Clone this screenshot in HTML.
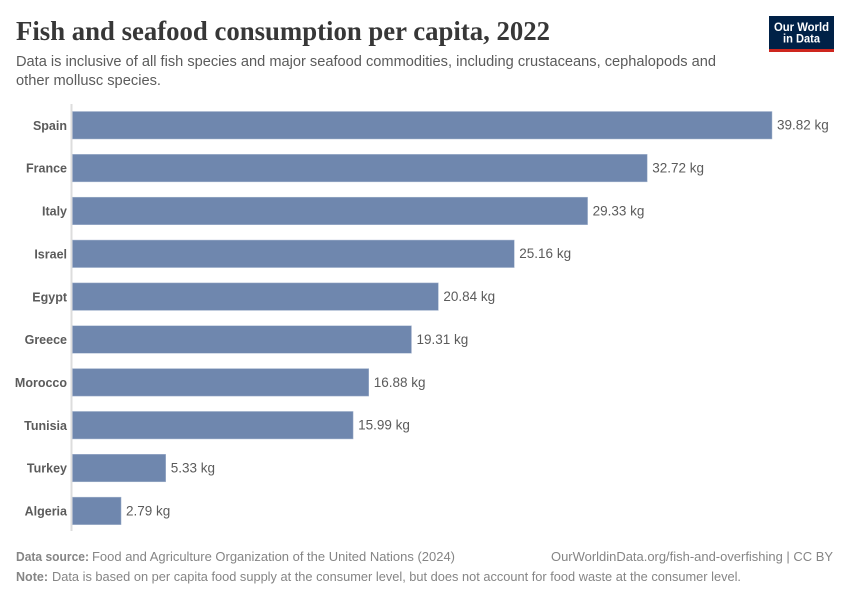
<!DOCTYPE html>
<html lang="en">
<head>
<meta charset="utf-8">
<title>Fish and seafood consumption per capita, 2022</title>
<style>
html,body{margin:0;padding:0;background:#fff;}
svg{display:block;font-family:"Liberation Sans",sans-serif;}
</style>
</head>
<body>
<svg id="chart" width="850" height="600" viewBox="0 0 850 600" xmlns="http://www.w3.org/2000/svg">
  <rect x="0" y="0" width="850" height="600" fill="#ffffff"/>
  <text x="16" y="40" font-family="'Liberation Serif',serif" font-weight="700" font-size="27" fill="#373737" textLength="534" lengthAdjust="spacingAndGlyphs">Fish and seafood consumption per capita, 2022</text>
  <text x="16" y="66" font-size="14.5" fill="#5b5b5b" textLength="700" lengthAdjust="spacingAndGlyphs">Data is inclusive of all fish species and major seafood commodities, including crustaceans, cephalopods and</text>
  <text x="16" y="85" font-size="14.5" fill="#5b5b5b" textLength="145" lengthAdjust="spacingAndGlyphs">other mollusc species.</text>
  <g>
    <rect x="769" y="16" width="65" height="33" fill="#002147"/>
    <rect x="769" y="49" width="65" height="3" fill="#ce261e"/>
    <text x="801.5" y="31" text-anchor="middle" font-size="12" font-weight="700" fill="#ffffff" textLength="55" lengthAdjust="spacingAndGlyphs">Our World</text>
    <text x="801.5" y="42.5" text-anchor="middle" font-size="12" font-weight="700" fill="#ffffff" textLength="37" lengthAdjust="spacingAndGlyphs">in Data</text>
  </g>
  <line x1="71.5" y1="104" x2="71.5" y2="531" stroke="#dddddd" stroke-width="2"/>
  <g id="bars"></g>
  <text x="16" y="561" font-size="13" font-weight="700" fill="#858585" textLength="73" lengthAdjust="spacingAndGlyphs">Data source:</text>
  <text x="92" y="561" font-size="13" fill="#858585" textLength="363" lengthAdjust="spacingAndGlyphs">Food and Agriculture Organization of the United Nations (2024)</text>
  <text x="551" y="561" font-size="13" fill="#858585" textLength="282" lengthAdjust="spacingAndGlyphs">OurWorldinData.org/fish-and-overfishing | CC BY</text>
  <text x="16" y="581" font-size="13" font-weight="700" fill="#858585" textLength="32" lengthAdjust="spacingAndGlyphs">Note:</text>
  <text x="52" y="581" font-size="13" fill="#858585" textLength="689" lengthAdjust="spacingAndGlyphs">Data is based on per capita food supply at the consumer level, but does not account for food waste at the consumer level.</text>
</svg>
<script>
const categories = ["Spain", "France", "Italy", "Israel", "Egypt", "Greece", "Morocco", "Tunisia", "Turkey", "Algeria"];
const seriesValues = [39.82, 32.72, 29.33, 25.16, 20.84, 19.31, 16.88, 15.99, 5.33, 2.79];
const valueUnit = "kg";

const SVG_NS = "http://www.w3.org/2000/svg";
const plotLeft = 72;
const plotRight = 772;
const domainMax = 39.82;
const firstBarTop = 111.5;
const bandStep = 42.85;
const barHeight = 27.5;

function xScale(v) {
  return plotLeft + (v / domainMax) * (plotRight - plotLeft);
}
function yScale(i) {
  return firstBarTop + i * bandStep;
}
function slug(s) {
  return s.toLowerCase().replace(/[^a-z]+/g, "-");
}

const barsGroup = document.getElementById("bars");
categories.forEach(function (name, i) {
  const value = seriesValues[i];
  const top = yScale(i);
  const mid = top + barHeight / 2;

  const bar = document.createElementNS(SVG_NS, "rect");
  bar.setAttribute("x", plotLeft + 0.5);
  bar.setAttribute("y", top);
  bar.setAttribute("width", xScale(value) - plotLeft - 0.5);
  bar.setAttribute("height", barHeight);
  bar.setAttribute("fill", "#6f87ae");
  bar.setAttribute("stroke", "#a9b8d0");
  bar.setAttribute("stroke-width", "0.5");
  
  
  barsGroup.appendChild(bar);

  const label = document.createElementNS(SVG_NS, "text");
  label.setAttribute("x", 67);
  label.setAttribute("y", mid + 4.6);
  label.setAttribute("text-anchor", "end");
  label.setAttribute("font-size", "12.5");
  label.setAttribute("font-weight", "700");
  label.setAttribute("fill", "#5b5b5b");
  label.textContent = name;
  
  
  barsGroup.appendChild(label);

  const valueLabel = document.createElementNS(SVG_NS, "text");
  valueLabel.setAttribute("x", xScale(value) + 5);
  valueLabel.setAttribute("y", mid + 4.4);
  valueLabel.setAttribute("font-size", "13.5");
  valueLabel.setAttribute("fill", "#5b5b5b");
  valueLabel.textContent = value.toFixed(2) + " " + valueUnit;
  
  
  barsGroup.appendChild(valueLabel);
});
</script>
</body>
</html>
